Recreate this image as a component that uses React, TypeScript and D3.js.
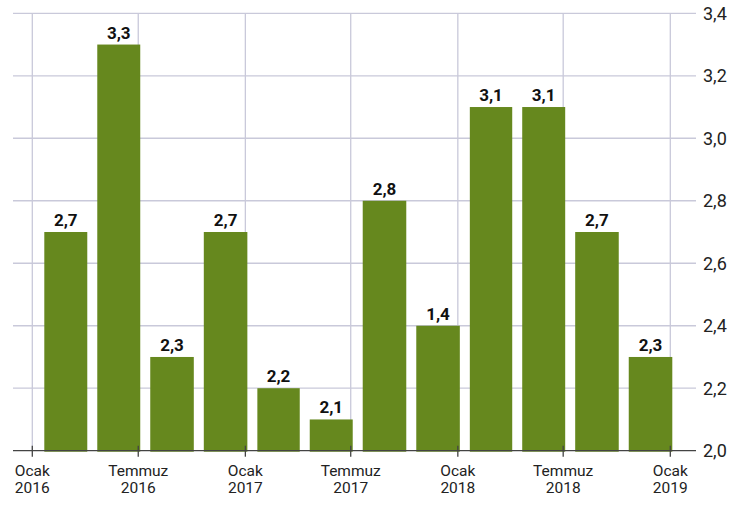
import React, { useEffect, useRef } from "react";
import * as d3 from "d3";

// quarterly values, the bar labels as printed in the source
const quarters = [
  "2016-01-01", "2016-04-01", "2016-07-01", "2016-10-01",
  "2017-01-01", "2017-04-01", "2017-07-01", "2017-10-01",
  "2018-01-01", "2018-04-01", "2018-07-01", "2018-10-01",
];
const values = [2.7, 3.3, 2.3, 2.7, 2.2, 2.1, 2.8, 2.4, 3.1, 3.1, 2.7, 2.3];
const valueLabels = ["2,7", "3,3", "2,3", "2,7", "2,2", "2,1", "2,8", "1,4", "3,1", "3,1", "2,7", "2,3"];

const monthNames = ["Ocak", "Temmuz"];
const yTicks = [2.0, 2.2, 2.4, 2.6, 2.8, 3.0, 3.2, 3.4];

const W = 745;
const H = 505;
const FONT = "Roboto, 'Open Sans', sans-serif";

const App = () => {
  const ref = useRef<SVGSVGElement>(null);

  useEffect(() => {
    const svg = d3.select(ref.current);
    svg.selectAll("*").remove();

    const parse = d3.timeParse("%Y-%m-%d");
    const dates = quarters.map((q) => parse(q) as Date);
    const data = dates.map((d, i) => ({ date: d, value: values[i], label: valueLabels[i] }));

    const x = d3
      .scaleTime()
      .domain([new Date(2016, 0, 1), new Date(2019, 0, 1)])
      .range([32.3, 670.3]);
    const y = d3.scaleLinear().domain([2.0, 3.4]).range([450.7, 13.3]);

    const gridLeft = 13;
    const gridRight = 696;
    const tr = d3.formatLocale({ decimal: ",", thousands: ".", grouping: [3], currency: ["", "₺"] });
    const fmt = tr.format(".1f");

    // horizontal grid
    svg
      .append("g")
      .selectAll("line")
      .data(yTicks.filter((t) => t > 2.0))
      .join("line")
      .attr("x1", gridLeft)
      .attr("x2", gridRight)
      .attr("y1", (d) => y(d))
      .attr("y2", (d) => y(d))
      .attr("stroke", "#c9c9da")
      .attr("stroke-width", 1.3);

    const xTicks = x.ticks(d3.timeMonth.every(6) as d3.TimeInterval);

    // vertical grid
    svg
      .append("g")
      .selectAll("line")
      .data(xTicks)
      .join("line")
      .attr("x1", (d) => x(d))
      .attr("x2", (d) => x(d))
      .attr("y1", y(3.4))
      .attr("y2", y(2.0))
      .attr("stroke", "#c9c9da")
      .attr("stroke-width", 1.3);

    // bars
    svg
      .append("g")
      .selectAll("rect")
      .data(data)
      .join("rect")
      .attr("x", (d) => x(d.date) + 12)
      .attr("width", (d) => x(d3.timeMonth.offset(d.date, 3)) + 2 - (x(d.date) + 12))
      .attr("y", (d) => y(d.value))
      .attr("height", (d) => y(2.0) - y(d.value) + 1)
      .attr("fill", "#66881e");

    // bar labels
    svg
      .append("g")
      .selectAll("text")
      .data(data)
      .join("text")
      .attr("x", (d) => (x(d.date) + 12 + x(d3.timeMonth.offset(d.date, 3)) + 2) / 2)
      .attr("y", (d) => y(d.value) - 6)
      .attr("text-anchor", "middle")
      .attr("font-family", FONT)
      .attr("font-weight", 700)
      .attr("font-size", 17)
      .attr("fill", "#111")
      .text((d) => d.label);

    // x axis line and ticks
    const axis = svg.append("g");
    axis
      .append("line")
      .attr("x1", gridLeft)
      .attr("x2", gridRight)
      .attr("y1", y(2.0))
      .attr("y2", y(2.0))
      .attr("stroke", "#444")
      .attr("stroke-width", 1.3);
    axis
      .selectAll(".tick")
      .data(xTicks)
      .join("line")
      .attr("class", "tick")
      .attr("x1", (d) => x(d))
      .attr("x2", (d) => x(d))
      .attr("y1", y(2.0) - 5)
      .attr("y2", y(2.0) + 6)
      .attr("stroke", "#444")
      .attr("stroke-width", 1.3);

    const lbl = axis
      .selectAll(".lbl")
      .data(xTicks)
      .join("text")
      .attr("class", "lbl")
      .attr("text-anchor", "middle")
      .attr("font-family", FONT)
      .attr("font-size", 15.5)
      .attr("fill", "#222");
    lbl
      .append("tspan")
      .attr("x", (d) => x(d))
      .attr("y", 476)
      .text((d) => monthNames[d.getMonth() === 0 ? 0 : 1]);
    lbl
      .append("tspan")
      .attr("x", (d) => x(d))
      .attr("y", 493)
      .text((d) => String(d.getFullYear()));

    // y labels on the right
    svg
      .append("g")
      .selectAll("text")
      .data(yTicks)
      .join("text")
      .attr("x", 703)
      .attr("y", (d) => y(d))
      .attr("dy", "0.36em")
      .attr("font-family", FONT)
      .attr("font-size", 18)
      .attr("fill", "#222")
      .text((d) => fmt(d));
  }, []);

  return (
    <svg
      ref={ref}
      width={W}
      height={H}
      style={{ position: "absolute", left: 0, top: 0, background: "#fff" }}
    />
  );
};

export default App;
